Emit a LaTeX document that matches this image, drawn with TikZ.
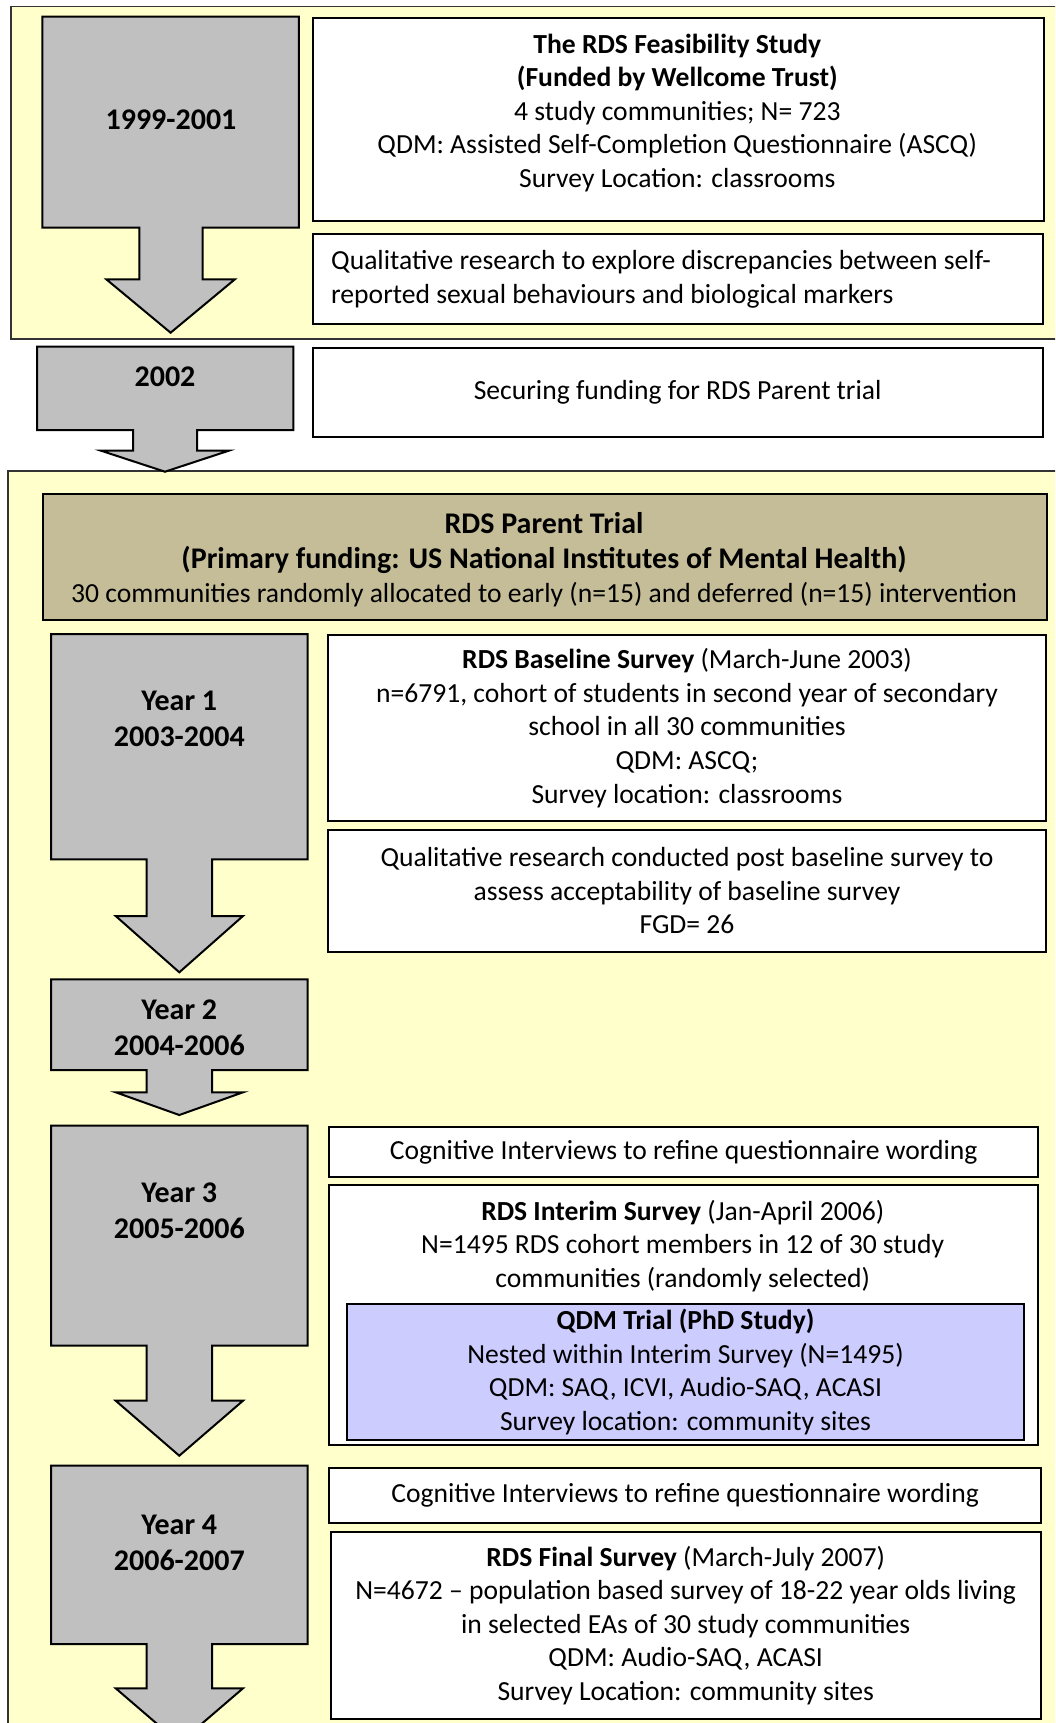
\documentclass[tikz,border=0pt]{standalone}
\usepackage{fontspec}
\setmainfont{Carlito}
\newcommand\bodyfont{\fontsize{27.6}{33.6}\selectfont}
\newcommand\bigfont{\fontsize{30}{36}\selectfont}
\definecolor{paleyellow}{HTML}{FFFFCC}
\definecolor{arrowgray}{HTML}{C0C0C0}
\definecolor{olive}{HTML}{C4BD97}
\definecolor{lavender}{HTML}{CCCCFF}
\begin{document}
\begin{tikzpicture}[x=1pt,y=-1pt,
  panel/.style={draw=black!80, line width=1.6pt, fill=paleyellow},
  garrow/.style={draw=black, line width=2pt, fill=arrowgray, line join=miter},
  span/.style args={#1/#2/#3/#4}{anchor=north west, at={(#1,#2)},
    minimum width={#3pt-#1pt}, minimum height={#4pt-#2pt}},
  wbox/.style={draw=black, line width=2pt, fill=white, font=\bodyfont,
    align=center, inner sep=0pt},
  yearlabel/.style={font=\bigfont\bfseries, align=center, inner sep=0pt},
  bodytext/.style={font=\bodyfont, align=center, inner sep=0pt}]
\useasboundingbox (0,0) rectangle (1055,1723);
\clip (0,0) rectangle (1055,1723);

% background panels
\draw[panel] (10.8,6.7) rectangle (1070,339);
\draw[panel] (8,471) rectangle (1070,1760);

% down-arrow callouts for the periods
\draw[garrow] (42.4,16.7) -- (298.8,16.7) -- (298.8,227.7) -- (202.6,227.7)
  -- (202.6,279.3) -- (234.9,279.3) -- (170.6,332.7) -- (106.3,279.3)
  -- (139.3,279.3) -- (139.3,227.7) -- (42.4,227.7) -- cycle;
\draw[garrow] (37,346.7) -- (293.4,346.7) -- (293.4,430) -- (197.2,430)
  -- (197.2,450.7) -- (228.8,450.7) -- (165,471.7) -- (101,450.7)
  -- (133.2,450.7) -- (133.2,430) -- (37,430) -- cycle;
\foreach \t/\b/\w/\tip in {634/859.3/916/972.3, 979.3/1070/1092.3/1115,
    1125.7/1345.7/1400.7/1455.7, 1465.7/1644/1688.3/1743}{
  \draw[garrow] (51,\t) -- (307.5,\t) -- (307.5,\b) -- (212,\b)
    -- (212,\w) -- (243,\w) -- (179.3,\tip) -- (115.7,\w)
    -- (146.7,\w) -- (146.7,\b) -- (51,\b) -- cycle;
}

% period labels
\node[yearlabel] (p1) at (171,120) {1999-2001};
\node[yearlabel] (p2) at (165,377) {2002};
\node[yearlabel] (y1) at (179.3,719) {Year 1\\2003-2004};
\node[yearlabel] (y2) at (179.3,1027.7) {Year 2\\2004-2006};
\node[yearlabel] (y3) at (179.3,1211) {Year 3\\2005-2006};
\node[yearlabel] (y4) at (179.3,1543) {Year 4\\2006-2007};

% feasibility study
\node[wbox, span=311.6/16.7/1043/220] (feas) {};
\node[bodytext] (feastext) at (677.3,112.8) {%
  \textbf{The RDS Feasibility Study}\\
  \textbf{(Funded by Wellcome Trust)}\\
  4 study communities; N= 723\\
  QDM: Assisted Self-Completion Questionnaire (ASCQ)\\
  Survey Location: classrooms};
\node[wbox, span=311.6/233.3/1041.7/323.3] (qual1) {};
\node[bodytext, align=left, anchor=west] (qual1text) at (331,279) {%
  Qualitative research to explore discrepancies between self-\\
  reported sexual behaviours and biological markers};
\node[wbox, span=311.6/346.7/1041.7/436] (fund) {Securing funding for RDS Parent trial};

% parent trial
\node[wbox, fill=olive, span=42.4/493.3/1046/619.3] (parent) {};
\node[bodytext, font=\bigfont\bfseries] (parentA) at (544,523.3) {RDS Parent Trial};
\node[bodytext, font=\bigfont\bfseries] (parentB) at (544,560) {(Primary funding: US National Institutes of Mental Health)};
\node[bodytext] (parentC) at (544,595) {30 communities randomly allocated to early (n=15) and deferred (n=15) intervention};

% year 1
\node[wbox, span=327/634/1045/820] (base) {%
  \textbf{RDS Baseline Survey} (March-June 2003)\\
  n=6791, cohort of students in second year of secondary\\
  school in all 30 communities\\
  QDM: ASCQ;\\
  Survey location: classrooms};
\node[wbox, span=327/829/1045/950.7] (qual2) {%
  Qualitative research conducted post baseline survey to\\
  assess acceptability of baseline survey\\
  FGD= 26};

% year 3
\node[wbox, span=328.4/1126/1037/1175.7] (cog1) {Cognitive Interviews to refine questionnaire wording};
\node[wbox, span=328.4/1184/1037/1444] (interim) {};
\node[bodytext] (interimtext) at (682.7,1246) {%
  \textbf{RDS Interim Survey} (Jan-April 2006)\\
  N=1495 RDS cohort members in 12 of 30 study\\
  communities (randomly selected)};
\node[wbox, fill=lavender, span=346/1302.7/1023/1439] (qdm) {%
  \textbf{QDM Trial (PhD Study)}\\
  Nested within Interim Survey (N=1495)\\
  QDM: SAQ, ICVI, Audio-SAQ, ACASI\\
  Survey location: community sites};

% year 4
\node[wbox, span=328.4/1467.3/1039.7/1521.7] (cog2) {Cognitive Interviews to refine questionnaire wording};
\node[wbox, span=329.7/1531/1039.7/1717.7] (final) {%
  \textbf{RDS Final Survey} (March-July 2007)\\
  N=4672 – population based survey of 18-22 year olds living\\
  in selected EAs of 30 study communities\\
  QDM: Audio-SAQ, ACASI\\
  Survey Location: community sites};
\end{tikzpicture}
\end{document}
